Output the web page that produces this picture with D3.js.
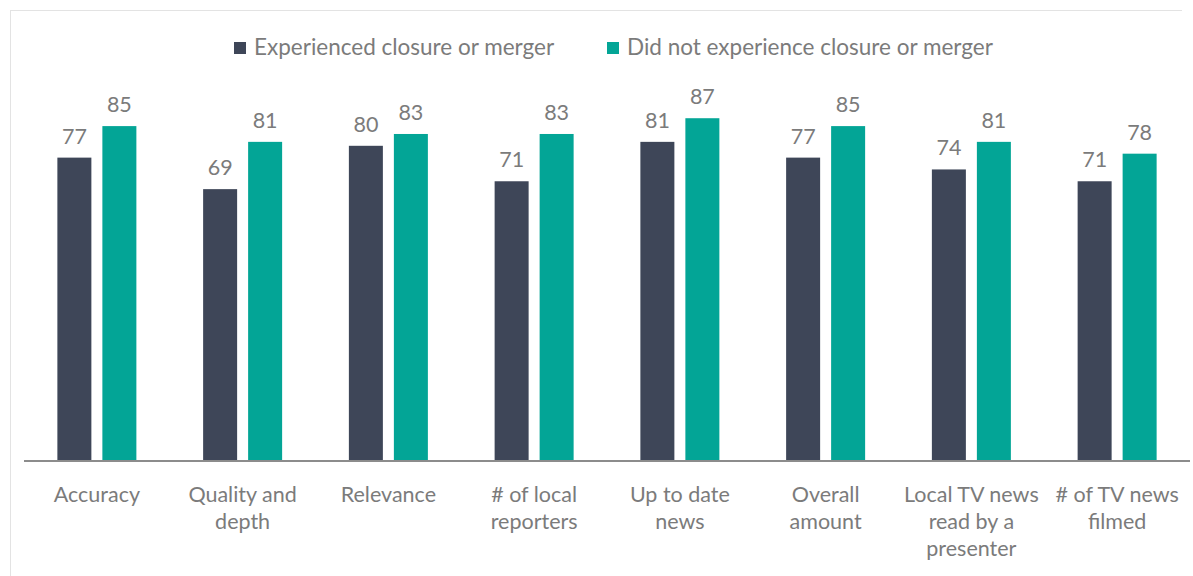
<!DOCTYPE html>
<html>
<head>
<meta charset="utf-8">
<script src="https://cdn.jsdelivr.net/npm/d3@7"></script>
<style>
  html, body { margin: 0; padding: 0; background: #fff; }
  svg { display: block; }
  text { font-family: Lato, "Open Sans", sans-serif; }
</style>
</head>
<body>
<svg id="chart" width="1193" height="576"></svg>
<script>
// Survey categories (multi-line labels split by "\n")
const categories = [
  "Accuracy",
  "Quality and\ndepth",
  "Relevance",
  "# of local\nreporters",
  "Up to date\nnews",
  "Overall\namount",
  "Local TV news\nread by a\npresenter",
  "# of TV news\nfilmed"
];
const seriesNames = ["Experienced closure or merger", "Did not experience closure or merger"];
const experienced = [77, 69, 80, 71, 81, 77, 74, 71];
const notExperienced = [85, 81, 83, 83, 87, 85, 81, 78];
const colors = ["#3e4658", "#03a596"];

const svg = d3.select("#chart");
const W = 1193, H = 576;
const plot = { left: 24, right: 1190, top: 67, bottom: 461 };
const fontSize = 21.5;
const legendFontSize = 22.5;
const textColor = "#7b7b7b";

// Frame lines along top and left edges
svg.append("line").attr("x1", 10).attr("x2", 1182).attr("y1", 10.5).attr("y2", 10.5)
  .attr("stroke", "#e3e3e3").attr("stroke-width", 1);
svg.append("line").attr("x1", 10.5).attr("x2", 10.5).attr("y1", 10).attr("y2", H)
  .attr("stroke", "#e3e3e3").attr("stroke-width", 1);

const x0 = d3.scaleBand().domain(categories).range([plot.left, plot.right]).paddingInner(0).paddingOuter(0);
const y = d3.scaleLinear().domain([0, 100]).range([plot.bottom, plot.top]);

const barW = 34, gap = 11;
const x1 = d3.scaleOrdinal().domain([0, 1]).range([-(gap / 2 + barW), gap / 2]);

const data = categories.map((c, i) => ({ cat: c, vals: [experienced[i], notExperienced[i]] }));

const groups = svg.append("g").selectAll("g").data(data).join("g")
  .attr("transform", d => `translate(${x0(d.cat) + x0.bandwidth() / 2},0)`);

groups.selectAll("rect").data(d => d.vals.map((v, s) => ({ v, s }))).join("rect")
  .attr("x", d => x1(d.s))
  .attr("width", barW)
  .attr("y", d => y(d.v))
  .attr("height", d => y(0) - y(d.v))
  .attr("fill", d => colors[d.s]);

groups.selectAll("text.val").data(d => d.vals.map((v, s) => ({ v, s }))).join("text")
  .attr("class", "val")
  .attr("x", d => x1(d.s) + barW / 2)
  .attr("y", d => y(d.v) - 14)
  .attr("text-anchor", "middle")
  .attr("font-size", fontSize)
  .attr("fill", textColor)
  .text(d => d.v);

// Baseline axis
const xAxis = svg.append("g").attr("transform", `translate(0,${plot.bottom})`)
  .call(d3.axisBottom(x0).tickSize(0).tickFormat(""));
xAxis.select(".domain").attr("stroke", "#8c8c8c").attr("stroke-width", 2)
  .attr("d", `M${plot.left},0H${plot.right}`);

// Category labels
const labels = svg.append("g").selectAll("text").data(categories).join("text")
  .attr("x", d => x0(d) + x0.bandwidth() / 2)
  .attr("y", 502)
  .attr("text-anchor", "middle")
  .attr("font-size", fontSize)
  .attr("fill", textColor);
labels.each(function (d) {
  const t = d3.select(this);
  d.split("\n").forEach((line, i) => {
    t.append("tspan").attr("x", x0(d) + x0.bandwidth() / 2).attr("dy", i === 0 ? 0 : 27).text(line);
  });
});

// Legend
const legendX = [234, 607];
const legend = svg.append("g").selectAll("g").data(seriesNames).join("g")
  .attr("transform", (d, i) => `translate(${legendX[i]},42)`);
legend.append("rect").attr("width", 12).attr("height", 12).attr("fill", (d, i) => colors[i]);
legend.append("text").attr("x", 20).attr("y", 13).attr("font-size", legendFontSize).attr("fill", textColor).text(d => d);
</script>
</body>
</html>
